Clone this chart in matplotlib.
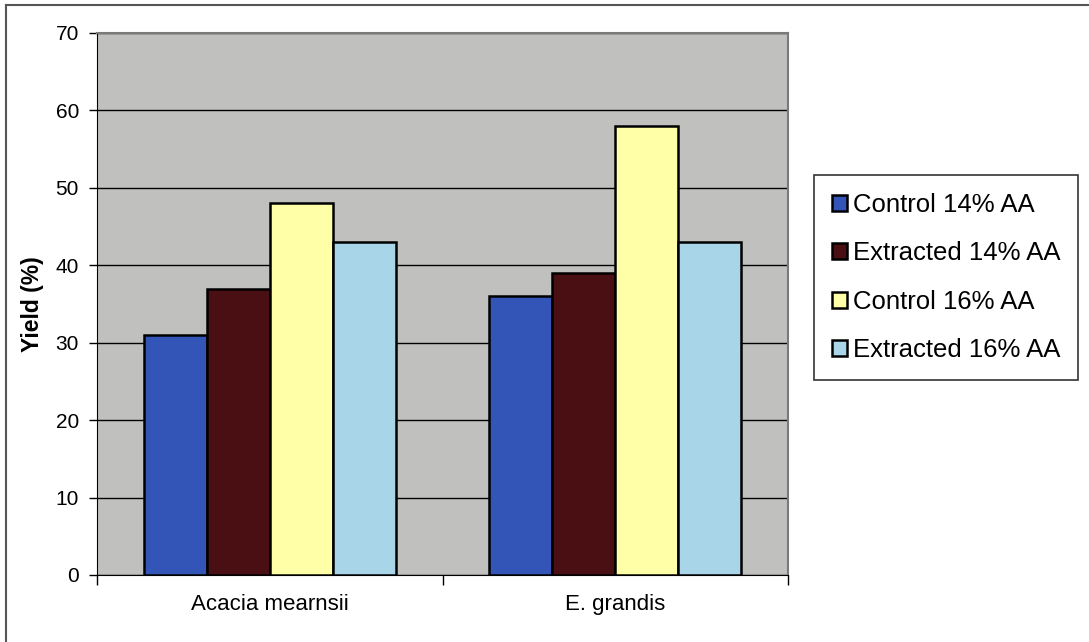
import numpy as np
import matplotlib
matplotlib.use("Agg")
import matplotlib.pyplot as plt
from matplotlib.ticker import FixedLocator

plt.rcParams["font.family"] = ["Liberation Sans", "DejaVu Sans"]

species = ["Acacia mearnsii", "E. grandis"]
series_names = ["Control 14% AA", "Extracted 14% AA", "Control 16% AA", "Extracted 16% AA"]
control_14 = [31, 36]
extracted_14 = [37, 39]
control_16 = [48, 58]
extracted_16 = [43, 43]
colors = ["#3355b8", "#4a0f12", "#ffffa8", "#a8d6e8"]

fig = plt.figure(figsize=(10.89, 6.42), dpi=100)
ax = fig.add_axes([97 / 1089, 1 - 575 / 642, (788 - 97) / 1089, (575 - 33) / 642])
ax.set_facecolor("#c0c0be")

# outer chart frame (top and left edges show)
fig.add_artist(plt.Line2D([6 / 1089, 1.0], [1 - 5 / 642, 1 - 5 / 642], color="#555555", lw=1.5))
fig.add_artist(plt.Line2D([6 / 1089, 6 / 1089], [0.0, 1 - 5 / 642], color="#555555", lw=1.5))

x = np.arange(len(species))
width = 0.182
all_series = [control_14, extracted_14, control_16, extracted_16]
for i, (vals, name, col) in enumerate(zip(all_series, series_names, colors)):
    ax.bar(x + (i - 1.5) * width, vals, width, color=col, edgecolor="black",
           linewidth=1.8, label=name, zorder=3)

ax.set_xlim(-0.5, 1.5)
ax.set_ylim(0, 70)
ax.set_yticks(range(0, 71, 10))
ax.yaxis.grid(True, color="black", linewidth=1.0, zorder=1)
ax.set_xticks(x)
ax.set_xticklabels(species, fontsize=16)
ax.tick_params(axis="x", length=0, pad=14)
ax.xaxis.set_minor_locator(FixedLocator([-0.5, 0.5, 1.5]))
ax.tick_params(axis="x", which="minor", length=7, width=1, direction="out")
ax.tick_params(axis="y", labelsize=15, length=6, width=1, direction="out", pad=7)

for side in ["top", "right"]:
    ax.spines[side].set_color("#7a7a7a")
    ax.spines[side].set_linewidth(1.5)
ax.spines["left"].set_color("black")
ax.spines["bottom"].set_color("black")

ax.set_ylabel("Yield (%)", fontsize=16.5, fontweight="bold", labelpad=8)

leg = fig.legend(loc="upper left", bbox_to_anchor=(814 / 1089, 1 - 175 / 642),
                 fontsize=18.5, frameon=True, fancybox=False, edgecolor="black",
                 handlelength=0.6, handleheight=0.6, handletextpad=0.2,
                 labelspacing=0.95, borderpad=0.7, borderaxespad=0)
leg.get_frame().set_linewidth(1.2)

fig.savefig("out.png", dpi=100, facecolor="white")
